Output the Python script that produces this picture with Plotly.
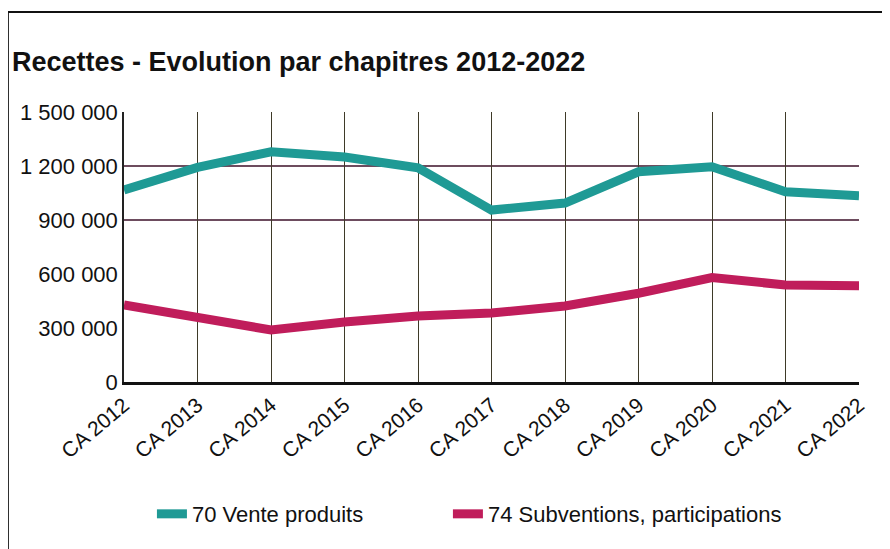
import plotly.graph_objects as go

# Données
ANNEES = ['CA 2012', 'CA 2013', 'CA 2014', 'CA 2015', 'CA 2016', 'CA 2017',
          'CA 2018', 'CA 2019', 'CA 2020', 'CA 2021', 'CA 2022']
VENTE_PRODUITS = [1067000, 1192000, 1279000, 1250000, 1190000, 955000,
                  994000, 1168000, 1196000, 1057000, 1035000]
SUBVENTIONS = [428000, 354000, 289000, 333000, 367000, 383000,
               422000, 493000, 580000, 539000, 535000]
NOM_SERIES = ['70 Vente produits', '74 Subventions, participations']
COULEURS = ['#1F9A95', '#C01D5B']
GRILLE_Y = [900000, 1200000]

fig = go.Figure()
for i, (nom, valeurs, couleur) in enumerate(zip(NOM_SERIES, [VENTE_PRODUITS, SUBVENTIONS], COULEURS)):
    fig.add_trace(go.Scatter(
        x=ANNEES, y=valeurs, name=nom, mode='lines',
        line=dict(color=couleur, width=9),
        legend='legend' if i == 0 else 'legend2',
    ))

# lignes horizontales visibles (les autres sont effacées sur le scan)
for v in GRILLE_Y:
    fig.add_shape(type='line', xref='paper', yref='y', x0=0, x1=1, y0=v, y1=v,
                  line=dict(color='#3D1028', width=1.3), layer='below')

# cadre autour du graphique
fig.add_shape(type='rect', xref='paper', yref='paper',
              x0=-0.158, x1=1.2, y0=-0.8, y1=1.37,
              line=dict(color='#111111', width=2))

legende = dict(orientation='h', xanchor='left', y=-0.489, yanchor='middle',
               font=dict(size=22), bgcolor='rgba(0,0,0,0)')

fig.update_layout(
    width=882, height=541,
    margin=dict(l=116, r=31, t=104, b=167),
    paper_bgcolor='white', plot_bgcolor='white',
    font=dict(family='Liberation Sans, Arial, sans-serif', size=22, color='#111111'),
    separators=', ',
    title=dict(text='<b>Recettes - Evolution par chapitres 2012-2022</b>',
               x=4 / 882, xanchor='left', y=1 - 54 / 541, yanchor='middle',
               font=dict(size=27, color='#111111')),
    showlegend=True,
    legend=dict(legende, x=0.038),
    legend2=dict(legende, x=0.4407),
    xaxis=dict(range=[0, 10], showgrid=True, gridcolor='#3E3A28', gridwidth=1,
               showline=True, linecolor='#111111', linewidth=2.5,
               tickangle=-40, ticks='', zeroline=False, tickfont=dict(size=21)),
    yaxis=dict(range=[0, 1500000], tickvals=[0, 300000, 600000, 900000, 1200000, 1500000],
               tickformat=',d', showgrid=False, zeroline=False,
               showline=True, linecolor='#222222', linewidth=1.5, ticks=''),
)

fig.write_html('out.html')
